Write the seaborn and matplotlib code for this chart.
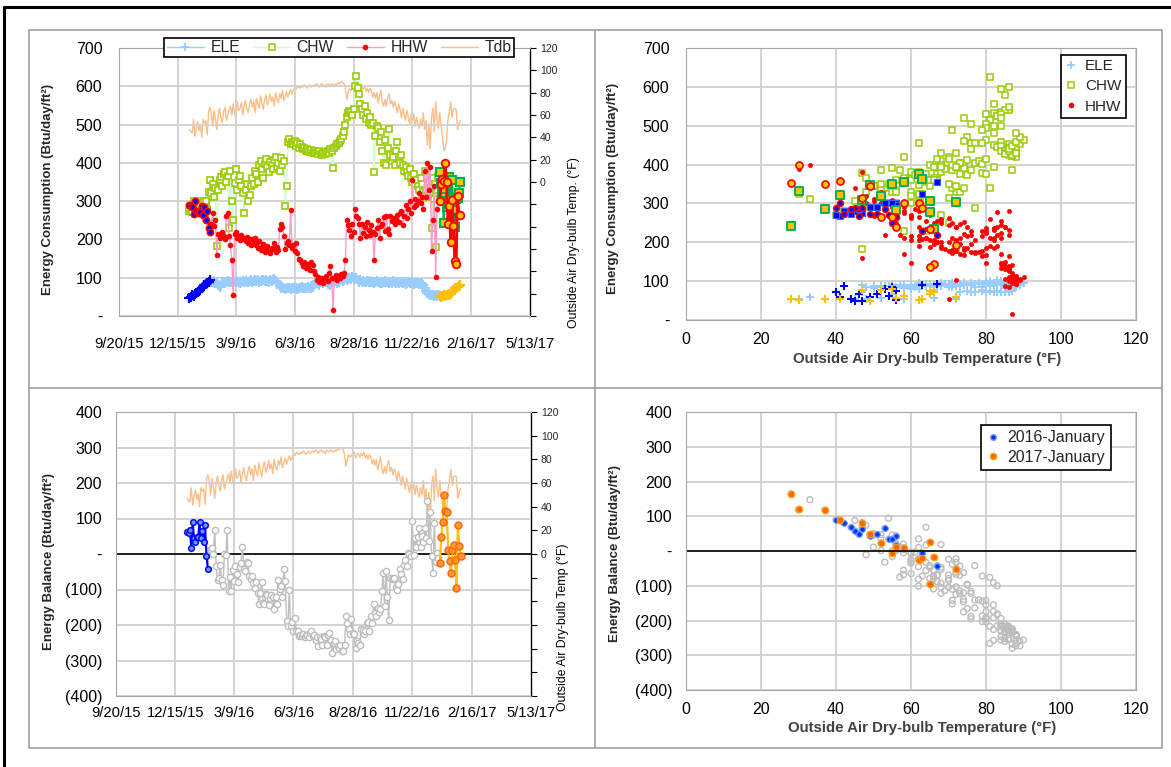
import numpy as np
import pandas as pd
import seaborn as sns
import matplotlib.pyplot as plt
from matplotlib.lines import Line2D
from matplotlib.patches import Rectangle
from matplotlib.ticker import FuncFormatter

sns.set_theme(style='white')
plt.rcParams['font.family'] = ['Liberation Sans', 'DejaVu Sans']

# daily data read every second day, 1/1/2016 .. 1/31/2017
dates = pd.date_range('2016-01-01', '2017-01-31', freq='2D')

# outside air dry-bulb temperature (F)
tdb = [47, 45, 44, 56, 41, 49, 54, 46, 51, 40, 56, 53, 55, 42, 63, 67,
       62, 50, 64, 56, 47, 60, 66, 58, 53, 63, 67, 55, 60, 64, 68,
       60, 70, 62, 57, 72, 64, 66, 71, 60, 68, 73, 65, 62, 70, 74,
       67, 72, 62, 75, 70, 66, 77, 71, 65, 74, 78, 69, 73, 79, 72,
       76, 68, 80, 74, 71, 79, 75, 82, 73, 77, 81, 76, 80, 83, 79,
       82, 84, 83, 86, 85, 84, 86, 85, 87, 86, 84, 86, 87, 85, 86,
       87, 86, 88, 87, 85, 87, 88, 86, 87, 85, 88, 87, 86, 88, 87,
       86, 88, 87, 89, 88, 90, 89, 88, 84, 74, 80, 84, 82, 83, 86,
       86, 81, 84, 85, 82, 85, 83, 86, 81, 84, 80, 84, 82, 76, 80,
       75, 80, 71, 77, 82, 72, 68, 74, 68, 76, 79, 70, 73, 67, 72,
       68, 62, 70, 65, 58, 66, 60, 55, 64, 58, 52, 60, 54, 61, 50,
       58, 52, 48, 56, 50, 62, 47, 55, 33, 52, 30, 58, 66, 45, 72, 56, 48,
       62, 49, 41, 28, 30, 37, 56, 63, 72, 58, 65, 66, 65, 47, 52, 55]

# energy use (Btu/day/ft2)
ele = [48, 50, 55, 52, 58, 60, 63, 66, 68, 72, 75, 80, 84, 87, 90, 93,
       90, 88, 92, 86, 89, 80, 76, 82, 88, 90, 87, 89, 91, 88, 90,
       89, 91, 88, 90, 92, 89, 87, 90, 91, 89, 92, 90, 88, 91, 93,
       90, 92, 94, 91, 93, 90, 92, 95, 93, 91, 94, 92, 90, 93, 92,
       94, 96, 92, 90, 86, 78, 74, 72, 73, 71, 74, 72, 73, 71, 74,
       73, 72, 74, 71, 73, 72, 75, 73, 74, 72, 73, 75, 74, 72, 76,
       80, 88, 92, 85, 82, 90, 88, 86, 93, 88, 84, 86, 82, 88, 90,
       88, 92, 85, 90, 94, 96, 92, 95, 98, 94, 97, 100, 96, 102, 98,
       96, 100, 94, 90, 93, 89, 92, 90, 88, 91, 89, 92, 88, 90, 87,
       89, 91, 88, 86, 90, 87, 89, 92, 88, 90, 86, 89, 87, 91, 88,
       87, 89, 85, 88, 90, 86, 88, 84, 87, 89, 86, 85, 88, 84, 86,
       85, 87, 84, 86, 83, 80, 72, 66, 60, 57, 55, 54, 56, 53, 55, 52, 54,
       52, 50, 53, 55, 51, 54, 56, 55, 58, 62, 68, 72, 74, 76, 78, 80]

chw = [275, 280, 272, 300, 268, 290, 300, 285, 292, 270, 296, 300, 300, 280, 325, 355,
       320, 345, 310, 335, 182, 330, 355, 362, 340, 370, 375, 350, 365, 230, 380,
       300, 250, 348, 385, 330, 355, 365, 340, 320, 270, 330, 345, 300, 315, 340,
       360, 345, 380, 372, 350, 395, 405, 385, 360, 398, 410, 388, 375, 402, 395,
       385, 408, 415, 390, 400, 378, 412, 395, 405, 288, 340, 455, 462, 448, 455,
       450, 458, 445, 452, 440, 448, 442, 435, 440, 432, 436, 430, 428, 434, 426,
       430, 425, 428, 422, 430, 424, 420, 427, 422, 428, 432, 425, 435, 430, 386,
       440, 445, 448, 452, 458, 462, 470, 480, 500, 520, 530, 535, 532, 525, 540,
       600, 626, 595, 580, 555, 540, 525, 548, 515, 530, 505, 520, 500, 505, 375,
       470, 495, 490, 455, 480, 430, 400, 460, 395, 440, 488, 420, 405, 415, 395,
       430, 455, 415, 400, 420, 395, 380, 390, 375, 365, 385, 360, 350, 372, 345,
       355, 340, 330, 360, 345, 325, 378, 330, 312, 350, 325, 230, 360, 305, 180, 330, 365,
       377, 348, 321, 243, 331, 286, 284, 362, 303, 354, 278, 233, 305, 308, 320, 350]

hhw = [289, 288, 285, 266, 300, 274, 271, 268, 272, 288, 265, 285, 250, 274, 230, 220,
       240, 268, 235, 250, 160, 215, 205, 212, 220, 208, 200, 262, 270, 210, 185,
       146, 55, 215, 220, 205, 210, 198, 212, 205, 200, 195, 207, 190, 200, 185,
       200, 192, 205, 185, 178, 196, 172, 180, 188, 168, 175, 182, 170, 165, 178,
       175, 190, 168, 180, 172, 228, 240, 232, 210, 175, 190, 195, 185, 277, 178,
       185, 170, 190, 165, 150, 145, 138, 130, 142, 125, 135, 128, 120, 140, 132,
       118, 110, 95, 102, 88, 100, 92, 85, 98, 105, 92, 112, 130, 100, 16,
       100, 108, 95, 103, 98, 110, 105, 112, 146, 251, 238, 225, 210, 240, 220,
       280, 260, 255, 240, 205, 240, 218, 232, 210, 245, 225, 212, 238, 220, 146,
       215, 230, 250, 205, 235, 240, 258, 222, 260, 228, 215, 262, 248, 255, 240,
       250, 265, 245, 270, 275, 238, 262, 290, 255, 280, 300, 268, 356, 285, 305,
       290, 300, 320, 295, 312, 280, 380, 310, 400, 330, 388, 171, 250, 340, 103, 280, 300,
       300, 346, 358, 353, 400, 350, 240, 287, 192, 302, 235, 143, 136, 314, 265, 265]

# energy balance (Btu/day/ft2)
bal = [62, 58, 68, 18, 90, 44, 34, 49, 48, 90, 44, 65, 34, 81, -5, -42,
       10, 11, 17, 1, 67, -35, -74, -68, -32, -72, -88, 1, -4, 68, -105,
       -65, -104, -45, -75, -33, -56, -80, -38, -24, 19, -43, -48, -22, -24, -62,
       -70, -61, -81, -96, -79, -109, -141, -110, -79, -139, -141, -114, -115, -144, -125,
       -116, -122, -155, -120, -142, -72, -98, -91, -122, -42, -76, -188, -204, -100, -203,
       -192, -216, -181, -216, -217, -231, -229, -232, -224, -235, -228, -227, -234, -222, -218,
       -232, -227, -241, -235, -260, -234, -240, -256, -231, -235, -256, -227, -223, -242, -280,
       -252, -245, -268, -259, -266, -256, -273, -273, -256, -175, -195, -210, -226, -183, -222,
       -224, -266, -246, -250, -257, -211, -215, -226, -217, -194, -191, -216, -174, -195, -142,
       -166, -174, -152, -164, -155, -103, -53, -146, -47, -122, -187, -69, -70, -69, -67,
       -93, -101, -85, -42, -55, -71, -30, -16, -33, 4, 1, -7, 94, -3, 46,
       20, 47, 74, 21, 50, 35, 74, 46, 148, 37, 118, -5, -54, 88, -22, 2, -11,
       -25, 48, 90, 165, 120, 118, 12, -20, -53, 10, 25, -18, -95, 82, 23, -5]

date_ticks = ['2015-09-20', '2015-12-15', '2016-03-09', '2016-06-03',
              '2016-08-28', '2016-11-22', '2017-02-16', '2017-05-13']
date_labels = ['9/20/15', '12/15/15', '3/9/16', '6/3/16',
               '8/28/16', '11/22/16', '2/16/17', '5/13/17']

df = pd.DataFrame({'date': dates, 'tdb': tdb, 'ele': ele, 'chw': chw,
                   'hhw': hhw, 'bal': bal})
jan16 = df[df['date'] < '2016-02-01']
jan17 = df[df['date'] >= '2017-01-01']

ELE_C = '#99CCFF'
CHW_L, CHW_M = '#CCFFCC', '#99CC00'
HHW_L, HHW_M = '#FF99CC', '#FF0000'
TDB_C = '#FDBF87'
GRID = '#D0D0D0'
BLUE, GOLD, GREEN, ORANGE = '#0000FF', '#FFC000', '#00B050', '#FF6600'

W, H = 1171, 767
fig = plt.figure(figsize=(W / 100, H / 100), dpi=100)


def box(l, t, r, b):
    return [l / W, 1 - b / H, (r - l) / W, (b - t) / H]


def neat(ax):
    ax.set_facecolor('white')
    ax.grid(True, color=GRID, lw=1.3)
    ax.set_axisbelow(True)
    for s in ax.spines.values():
        s.set_color('#A6A6A6')
        s.set_linewidth(0.8)
    ax.tick_params(length=0, labelsize=11.5, colors='black')
    ax.set_xlabel('')
    ax.set_ylabel('')


def temp_axis(ax):
    ax.set_ylim(-120, 120)
    ax.set_yticks(range(-120, 121, 20))
    ax.yaxis.set_major_formatter(FuncFormatter(lambda v, p: f'{int(v)}' if v >= 0 else ''))
    ax.tick_params(axis='y', direction='out', length=4, width=0.8, color='black',
                   labelsize=7.5, pad=3)
    ax.grid(False)
    for k in ['left', 'top', 'bottom']:
        ax.spines[k].set_visible(False)
    ax.spines['right'].set_color('black')
    ax.spines['right'].set_linewidth(1)
    ax.set_ylabel('')
    ax.set_xlabel('')


def date_axis(ax):
    ax.set_xlim(pd.Timestamp(date_ticks[0]), pd.Timestamp(date_ticks[-1]))
    ax.set_xticks([pd.Timestamp(d) for d in date_ticks])
    ax.set_xticklabels(date_labels)
    ax.tick_params(axis='x', labelsize=10.6)


dash0 = FuncFormatter(lambda v, p: '-' if v == 0 else f'{int(v)}')
paren = FuncFormatter(lambda v, p: '-' if v == 0 else (f'({abs(int(v))})' if v < 0 else f'{int(v)}'))
line_kw = dict(estimator=None, sort=False, legend=False)

# ---------------- top left: time series of consumption ----------------
ax1 = fig.add_axes(box(119, 48, 530, 316))
ax1b = ax1.twinx()
ax1.set_zorder(ax1b.get_zorder() + 1)
ax1.patch.set_visible(False)

sns.lineplot(data=df, x='date', y='tdb', ax=ax1b, color=TDB_C, lw=1, **line_kw)
sns.lineplot(data=df, x='date', y='ele', ax=ax1, color=ELE_C, lw=1.2, marker='+', markersize=7,
             markeredgecolor=ELE_C, markeredgewidth=1.5, **line_kw)
sns.lineplot(data=df, x='date', y='chw', ax=ax1, color=CHW_L, lw=1, marker='s', markersize=4.5,
             markerfacecolor='white', markeredgecolor=CHW_M, markeredgewidth=1.2, **line_kw)
sns.lineplot(data=df, x='date', y='hhw', ax=ax1, color=HHW_L, lw=1, marker='o', markersize=3.2,
             markerfacecolor=HHW_M, markeredgecolor=HHW_M, markeredgewidth=0.8, **line_kw)
# January 2016
sns.scatterplot(data=jan16, x='date', y='chw', ax=ax1, marker='s', s=22, color=BLUE,
                edgecolor='#3366FF', linewidth=0.8, legend=False)
sns.lineplot(data=jan16, x='date', y='hhw', ax=ax1, color=HHW_M, lw=1, marker='o', markersize=4.5,
             markerfacecolor=BLUE, markeredgecolor=HHW_M, markeredgewidth=1.2, **line_kw)
sns.lineplot(data=jan16, x='date', y='ele', ax=ax1, color=BLUE, lw=1.2, marker='+', markersize=7,
             markeredgecolor=BLUE, markeredgewidth=1.6, **line_kw)
# January 2017
sns.lineplot(data=jan17, x='date', y='chw', ax=ax1, color=GREEN, lw=1.5, marker='s', markersize=6,
             markerfacecolor=GOLD, markeredgecolor=GREEN, markeredgewidth=1.5, **line_kw)
sns.lineplot(data=jan17, x='date', y='hhw', ax=ax1, color=HHW_M, lw=2, marker='o', markersize=5.5,
             markerfacecolor=GOLD, markeredgecolor=HHW_M, markeredgewidth=1.3, **line_kw)
sns.lineplot(data=jan17, x='date', y='ele', ax=ax1, color=GOLD, lw=1.2, marker='+', markersize=7,
             markeredgecolor=GOLD, markeredgewidth=1.6, **line_kw)

neat(ax1)
ax1.spines['right'].set_visible(False)
ax1.set_ylim(0, 700)
ax1.set_yticks(range(0, 701, 100))
ax1.yaxis.set_major_formatter(dash0)
date_axis(ax1)
ax1.tick_params(axis='x', pad=15)
ax1.tick_params(axis='y', pad=12)
temp_axis(ax1b)

leg_handles = [
    Line2D([], [], color=ELE_C, lw=1, marker='+', ms=6, mec=ELE_C, mew=1.3),
    Line2D([], [], color=CHW_L, lw=1, marker='s', ms=4.5, mfc='white', mec=CHW_M, mew=1.1),
    Line2D([], [], color=HHW_L, lw=1, marker='o', ms=3, mfc=HHW_M, mec=HHW_M),
    Line2D([], [], color=TDB_C, lw=1),
]
lg = fig.legend(leg_handles, ['ELE', 'CHW', 'HHW', 'Tdb'], ncol=4, loc='center',
                bbox_to_anchor=(339 / W, 1 - 47.5 / H), fancybox=False, framealpha=1,
                edgecolor='black', fontsize=11.3, handlelength=2.4, columnspacing=0.8,
                handletextpad=0.4, borderpad=0.15, borderaxespad=0)
lg.get_frame().set_linewidth(1.2)

# ---------------- top right: consumption vs temperature ----------------
ax2 = fig.add_axes(box(686, 48, 1136, 320))
sns.scatterplot(data=df, x='tdb', y='ele', ax=ax2, marker='+', s=34, color=ELE_C, linewidth=1.4, legend=False)
sns.scatterplot(data=df, x='tdb', y='chw', ax=ax2, marker='s', s=16, color=CHW_M,
                facecolor='white', edgecolor=CHW_M, linewidth=1.1, legend=False)
sns.scatterplot(data=df, x='tdb', y='hhw', ax=ax2, marker='o', s=9, color=HHW_M,
                edgecolor=HHW_M, linewidth=0.5, legend=False)
sns.scatterplot(data=jan16, x='tdb', y='chw', ax=ax2, marker='s', s=20, color=BLUE,
                edgecolor='#3366FF', linewidth=0.8, legend=False)
sns.scatterplot(data=jan17, x='tdb', y='chw', ax=ax2, marker='s', s=30, color=GOLD,
                edgecolor=GREEN, linewidth=1.4, legend=False)
sns.scatterplot(data=jan16, x='tdb', y='hhw', ax=ax2, marker='o', s=18, color=BLUE,
                edgecolor=HHW_M, linewidth=1.1, legend=False)
sns.scatterplot(data=jan17, x='tdb', y='hhw', ax=ax2, marker='o', s=26, color=GOLD,
                edgecolor=HHW_M, linewidth=1.2, legend=False)
sns.scatterplot(data=jan16, x='tdb', y='ele', ax=ax2, marker='+', s=34, color=BLUE, linewidth=1.5, legend=False)
sns.scatterplot(data=jan17, x='tdb', y='ele', ax=ax2, marker='+', s=34, color=GOLD, linewidth=1.5, legend=False)
neat(ax2)
ax2.set_xlim(0, 120)
ax2.set_xticks(range(0, 121, 20))
ax2.set_ylim(0, 700)
ax2.set_yticks(range(0, 701, 100))
ax2.yaxis.set_major_formatter(dash0)
ax2.tick_params(axis='x', pad=9)
ax2.tick_params(axis='y', pad=12)

sc_handles = [
    Line2D([], [], ls='', marker='+', ms=6, mec=ELE_C, mew=1.3),
    Line2D([], [], ls='', marker='s', ms=4.5, mfc='white', mec=CHW_M, mew=1.1),
    Line2D([], [], ls='', marker='o', ms=3, mfc=HHW_M, mec=HHW_M),
]
lg2 = fig.legend(sc_handles, ['ELE', 'CHW', 'HHW'], loc='center',
                 bbox_to_anchor=(1093.5 / W, 1 - 86.5 / H), fancybox=False, framealpha=1,
                 edgecolor='black', fontsize=11, handlelength=0.8, handletextpad=0.5,
                 labelspacing=0.4, borderpad=0.3)
lg2.get_frame().set_linewidth(1.2)

# ---------------- bottom left: energy balance time series ----------------
ax3 = fig.add_axes(box(116, 412, 531, 696))
ax3b = ax3.twinx()
ax3.set_zorder(ax3b.get_zorder() + 1)
ax3.patch.set_visible(False)

sns.lineplot(data=df, x='date', y='tdb', ax=ax3b, color=TDB_C, lw=1, **line_kw)
sns.lineplot(data=df, x='date', y='bal', ax=ax3, color='#C0C0C0', lw=1, marker='o', markersize=4.5,
             markerfacecolor='white', markeredgecolor='#BDBDBD', markeredgewidth=1, **line_kw)
sns.lineplot(data=jan16, x='date', y='bal', ax=ax3, color=BLUE, lw=1.5, marker='o', markersize=4,
             markerfacecolor='#6699FF', markeredgecolor=BLUE, markeredgewidth=1, **line_kw)
sns.lineplot(data=jan17, x='date', y='bal', ax=ax3, color=GOLD, lw=1.5, marker='o', markersize=5,
             markerfacecolor='#FF9933', markeredgecolor=ORANGE, markeredgewidth=1, **line_kw)
ax3.axhline(0, color='black', lw=1.2, zorder=1.5)
neat(ax3)
ax3.spines['right'].set_visible(False)
ax3.set_ylim(-400, 400)
ax3.set_yticks(range(-400, 401, 100))
ax3.yaxis.set_major_formatter(paren)
date_axis(ax3)
ax3.tick_params(axis='x', pad=7)
ax3.tick_params(axis='y', pad=10)
temp_axis(ax3b)

# ---------------- bottom right: energy balance vs temperature ----------------
ax4 = fig.add_axes(box(686, 412, 1136, 690))
sns.scatterplot(data=df, x='tdb', y='bal', ax=ax4, marker='o', s=18, color='#BDBDBD',
                facecolor='none', edgecolor='#BDBDBD', linewidth=1, legend=False)
sns.scatterplot(data=jan16, x='tdb', y='bal', ax=ax4, marker='o', s=16, color='#0033FF',
                edgecolor='#6699FF', linewidth=0.8, legend=False)
sns.scatterplot(data=jan17, x='tdb', y='bal', ax=ax4, marker='o', s=22, color=ORANGE,
                edgecolor='#FFA500', linewidth=0.8, legend=False)
ax4.axhline(0, color='black', lw=1.2, zorder=1.5)
neat(ax4)
ax4.set_xlim(0, 120)
ax4.set_xticks(range(0, 121, 20))
ax4.set_ylim(-400, 400)
ax4.set_yticks(range(-400, 401, 100))
ax4.yaxis.set_major_formatter(paren)
ax4.tick_params(axis='x', pad=9)
ax4.tick_params(axis='y', pad=10)

bal_handles = [
    Line2D([], [], ls='', marker='o', ms=4, mfc='#0033FF', mec='#6699FF'),
    Line2D([], [], ls='', marker='o', ms=4.5, mfc=ORANGE, mec='#FFA500'),
]
lg3 = fig.legend(bal_handles, ['2016-January', '2017-January'], loc='center',
                 bbox_to_anchor=(1046 / W, 1 - 447.5 / H), fancybox=False, framealpha=1,
                 edgecolor='black', fontsize=11.5, handlelength=0.8, handletextpad=0.5,
                 labelspacing=0.3, borderpad=0.35)
lg3.get_frame().set_linewidth(1.2)

# ---------------- axis titles ----------------
lab = dict(rotation=90, ha='center', va='center', fontsize=9.5, fontweight='bold', color='#262626')
fig.text(48 / W, 1 - 189 / H, 'Energy Consumption (Btu/day/ft²)', **lab)
fig.text(613 / W, 1 - 188 / H, 'Energy Consumption (Btu/day/ft²)', **lab)
fig.text(49 / W, 1 - 561 / H, 'Energy Balance (Btu/day/ft²)', **lab)
fig.text(615 / W, 1 - 553 / H, 'Energy Balance (Btu/day/ft²)', **lab)
fig.text(574 / W, 1 - 243 / H, 'Outside Air Dry-bulb Temp. (°F)', rotation=90,
         ha='center', va='center', fontsize=8.8, color='black')
fig.text(563 / W, 1 - 627 / H, 'Outside Air Dry-bulb Temp (°F)', rotation=90,
         ha='center', va='center', fontsize=8.8, color='black')
fig.text(927 / W, 1 - 359 / H, 'Outside Air Dry-bulb Temperature (°F)', ha='center', va='center',
         fontsize=10.8, fontweight='bold', color='#404040')
fig.text(922 / W, 1 - 728 / H, 'Outside Air Dry-bulb Temperature (°F)', ha='center', va='center',
         fontsize=10.8, fontweight='bold', color='#404040')

# ---------------- panel frames ----------------
fig.add_artist(Rectangle((29 / W, 1 - 748 / H), (1162 - 29) / W, (748 - 30) / H,
                         transform=fig.transFigure, fill=False, ec='#A0A0A0', lw=1.2))
fig.add_artist(Line2D([595 / W, 595 / W], [1 - 30 / H, 1 - 748 / H], transform=fig.transFigure,
                      color='#A0A0A0', lw=1.2))
fig.add_artist(Line2D([29 / W, 1162 / W], [1 - 388 / H, 1 - 388 / H], transform=fig.transFigure,
                      color='#A0A0A0', lw=1.2))
fig.add_artist(Line2D([4 / W, 1], [1 - 7 / H, 1 - 7 / H], transform=fig.transFigure,
                      color='black', lw=2.2))
fig.add_artist(Line2D([4 / W, 4 / W], [0, 1 - 7 / H], transform=fig.transFigure,
                      color='black', lw=2.2))

fig.savefig('out.png', dpi=100)
